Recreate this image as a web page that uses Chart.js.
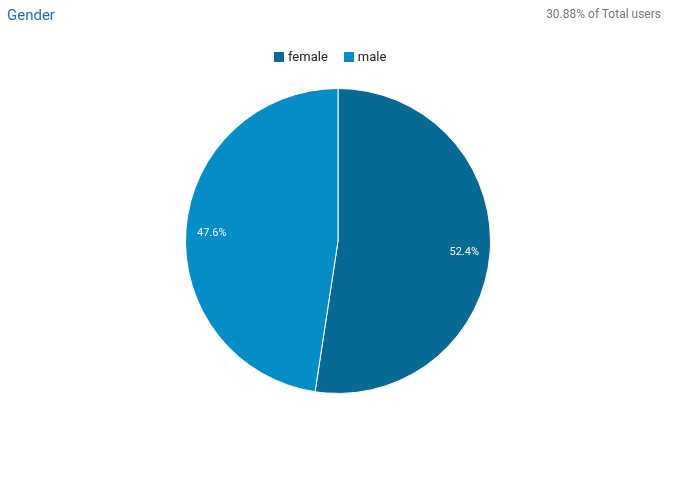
<!DOCTYPE html>
<html>
<head>
<meta charset="utf-8">
<script src="https://cdn.jsdelivr.net/npm/chart.js@4"></script>
<style>
  body { margin: 0; background: #fff; font-family: Roboto, Arial, sans-serif; }
  #wrap { position: relative; width: 678px; height: 479px; }
  #title { position: absolute; left: 7px; top: 6px; font-size: 15px; color: #1f6eb3; }
  #sub { position: absolute; right: 17px; top: 7px; font-size: 12px; color: #757575; }
  #box { position: absolute; left: 0; top: 0; width: 678px; height: 479px; }
  #legend { position: absolute; left: 274px; top: 49px; font-size: 13px; color: #222; white-space: nowrap; }
  #legend span.item { display: inline-block; margin-right: 16px; line-height: 16px; }
  #legend i { display: inline-block; width: 10px; height: 10px; margin-right: 4px; vertical-align: -1px; }
</style>
</head>
<body>
<div id="wrap">
  <div id="box"><canvas id="pieChart"></canvas></div>
  <div id="title">Gender</div>
  <div id="sub">30.88% of Total users</div>
  <div id="legend"></div>
</div>
<script>
const labels = ['female', 'male'];
const values = [52.4, 47.6];
const colors = ['#076a94', '#058dc7'];

// legend built from the same arrays
document.getElementById('legend').innerHTML = labels.map((l, i) =>
  '<span class="item"><i style="background:' + colors[i] + '"></i>' + l + '</span>').join('');

// draw percentages inside each slice
const sliceLabels = {
  id: 'sliceLabels',
  afterDatasetsDraw(chart) {
    const ctx = chart.ctx;
    const meta = chart.getDatasetMeta(0);
    ctx.save();
    ctx.fillStyle = '#fff';
    ctx.font = '11px Roboto, Arial, sans-serif';
    ctx.textAlign = 'center';
    ctx.textBaseline = 'middle';
    meta.data.forEach((arc, i) => {
      const mid = (arc.startAngle + arc.endAngle) / 2;
      const r = arc.outerRadius * 0.83;
      ctx.fillText(values[i].toFixed(1) + '%', arc.x + Math.cos(mid) * r, arc.y + Math.sin(mid) * r + 2);
    });
    ctx.restore();
  }
};

const ctx = document.getElementById('pieChart').getContext('2d');
const myPie = new Chart(ctx, {
  type: 'pie',
  data: {
    labels: labels,
    datasets: [{
      data: values,
      backgroundColor: colors,
      borderColor: '#fff',
      borderWidth: 1
    }]
  },
  options: {
    responsive: true,
    maintainAspectRatio: false,
    animation: false,
    layout: { padding: { top: 88, bottom: 85, left: 0, right: 2 } },
    plugins: {
      legend: { display: false },
      tooltip: { enabled: false }
    }
  },
  plugins: [sliceLabels]
});
</script>
</body>
</html>
